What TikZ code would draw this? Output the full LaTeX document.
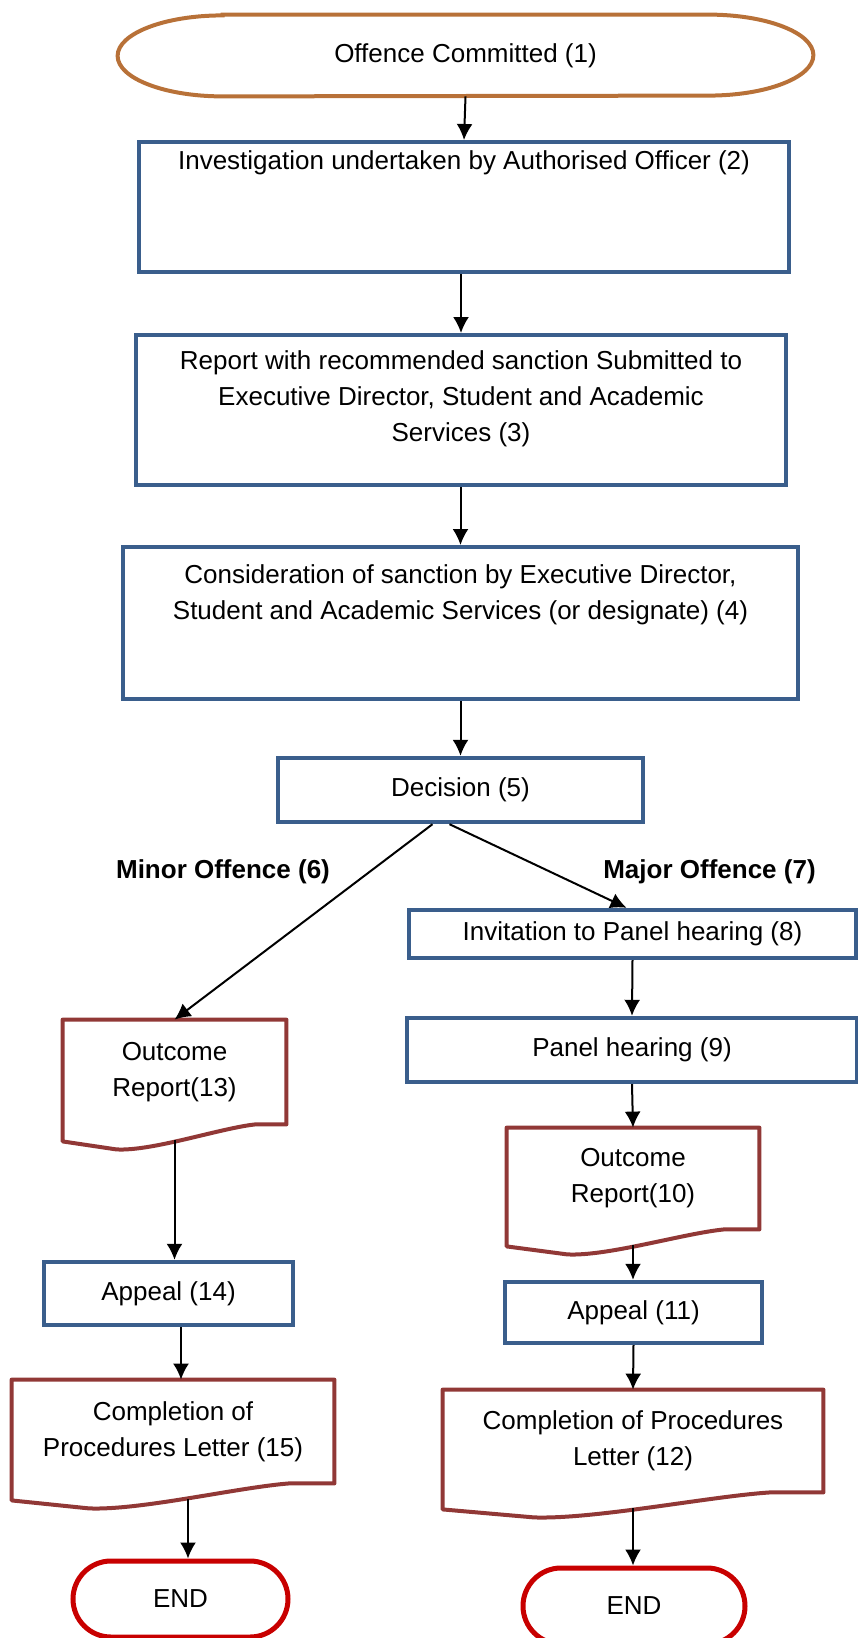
\documentclass[tikz,border=0pt]{standalone}
\usepackage{fontspec}
\setmainfont{Liberation Sans}
\usepackage{xcolor}
\usetikzlibrary{arrows.meta}
\usetikzlibrary{calc}
\usetikzlibrary{shapes.misc}
\definecolor{myorange}{RGB}{184,113,56}
\definecolor{myblue}{RGB}{58,94,140}
\definecolor{mybrown}{RGB}{145,56,54}
\definecolor{myred}{RGB}{200,0,0}

\tikzset{
  blockbox/.style={draw=myblue, line width=2.2pt, inner sep=0pt, align=center},
  docbox/.style={inner sep=0pt, align=center},
  docline/.style={draw=mybrown, line width=2pt, line join=round},
  endbox/.style={rounded rectangle, draw=myred, line width=2.5pt, inner sep=0pt},
  flow/.style={-{Latex[length=8pt,width=8pt]}, line width=1pt},
  branch/.style={font=\fontsize{13}{18}\selectfont\bfseries},
}

% wavy bottom of a document box
\newcommand{\docwave}[1]{%
  \draw[docline] (#1.south east) -- (#1.north east) -- (#1.north west) -- ($(#1.south west)+(0,17)$)
    -- ($(#1.south west)!0.24!(#1.south east)+(0,25)$)
    .. controls ($(#1.south west)!0.40!(#1.south east)+(0,27)$) and ($(#1.south west)!0.70!(#1.south east)+(0,4)$)
    .. ($(#1.south west)!0.86!(#1.south east)$) -- cycle;
  \coordinate (#1-b) at ($(#1.south)+(0,16)$);}

\begin{document}
\begin{tikzpicture}[x=0.5pt, y=-0.5pt, font=\fontsize{13}{18}\selectfont]
\useasboundingbox (0,0) rectangle (857,1638);

\node[inner sep=0pt, minimum width=347.5pt, minimum height=40.5pt] (n1) at (465.5,55.5) {Offence Committed (1)};
\draw[myorange, line width=2pt] ($(n1.north west)+(105,0)$) -- ($(n1.north east)+(-105,0)$)
  arc[start angle=90, end angle=-90, x radius=52.5pt, y radius=20.25pt]
  -- ($(n1.south west)+(105,0)$)
  arc[start angle=270, end angle=90, x radius=52.5pt, y radius=20.25pt] -- cycle;

\node[blockbox, anchor=north, minimum width=325pt, text height=13.5pt, text depth=51.5pt] (n2) at (464,140)
  {Investigation undertaken by Authorised Officer (2)};
\node[blockbox, anchor=north, minimum width=325pt, text height=53pt, text depth=22pt] (n3) at (461,333)
  {Report with recommended sanction Submitted to\\Executive Director, Student and Academic\\Services (3)};
\node[blockbox, anchor=north, minimum width=337.5pt, text height=36pt, text depth=40pt] (n4) at (460.5,545)
  {Consideration of sanction by Executive Director,\\Student and Academic Services (or designate) (4)};
\node[blockbox, minimum width=182.5pt, minimum height=32pt] (n5) at (460.5,790) {Decision (5)};

\node[branch, anchor=base] (minor) at (223,878) {Minor Offence (6)};
\node[branch, anchor=base] (major) at (709.5,878) {Major Offence (7)};

% major offence
\node[blockbox, minimum width=223.5pt, minimum height=24pt] (n8) at (632.5,934) {Invitation to Panel hearing (8)};
\node[blockbox, minimum width=225pt, minimum height=32pt] (n9) at (632,1050) {Panel hearing (9)};
\node[docbox, minimum width=126pt, minimum height=50.5pt] (n10) at (633,1178.5) {Outcome\\Report(10)};
\node[blockbox, minimum width=128.5pt, minimum height=30.5pt] (n11) at (633.5,1312.5) {Appeal (11)};
\node[docbox, minimum width=190pt, minimum height=51pt] (n12) at (633,1441) {Completion of Procedures\\Letter (12)};
\node[endbox, minimum width=111pt, minimum height=38pt] (endR) at (634,1606) {END};

% minor offence
\node[docbox, minimum width=111.5pt, minimum height=52pt] (n13) at (174.5,1072) {Outcome\\Report(13)};
\node[blockbox, minimum width=124.5pt, minimum height=31.5pt] (n14) at (168.5,1293.5) {Appeal (14)};
\node[docbox, minimum width=161pt, minimum height=51.5pt] (n15) at (173,1431.5) {Completion of\\Procedures Letter (15)};
\node[endbox, minimum width=107.5pt, minimum height=38pt] (endL) at (180.5,1599) {END};

\docwave{n10}
\docwave{n12}
\docwave{n13}
\docwave{n15}

\draw[flow] (n1.south) -- (n2.north);
\draw[flow] (n3.north |- n2.south) -- (n3.north);
\draw[flow] (n4.north |- n3.south) -- (n4.north);
\draw[flow] (n5.north |- n4.south) -- (n5.north);
\draw[flow] ([xshift=-14pt]n5.south) -- (n13.north);
\draw[flow] ([xshift=-5.5pt]n5.south) -- ([xshift=-3pt]n8.north);

\draw[flow] (n8.south) -- (n9.north);
\draw[flow] (n9.south) -- (n10.north);
\draw[flow] (n10-b) -- (n10-b |- n11.north);
\draw[flow] (n11.south) -- (n12.north);
\draw[flow] (n12-b) -- (n12-b |- endR.north);

\draw[flow] (n13-b) -- (n13-b |- n14.north);
\draw[flow] ($(n15.north |- n14.south)+(8,0)$) -- ($(n15.north)+(8,0)$);
\draw[flow] ($(n15-b)+(15,0)$) -- ($(n15-b |- endL.north)+(15,0)$);
\end{tikzpicture}
\end{document}
